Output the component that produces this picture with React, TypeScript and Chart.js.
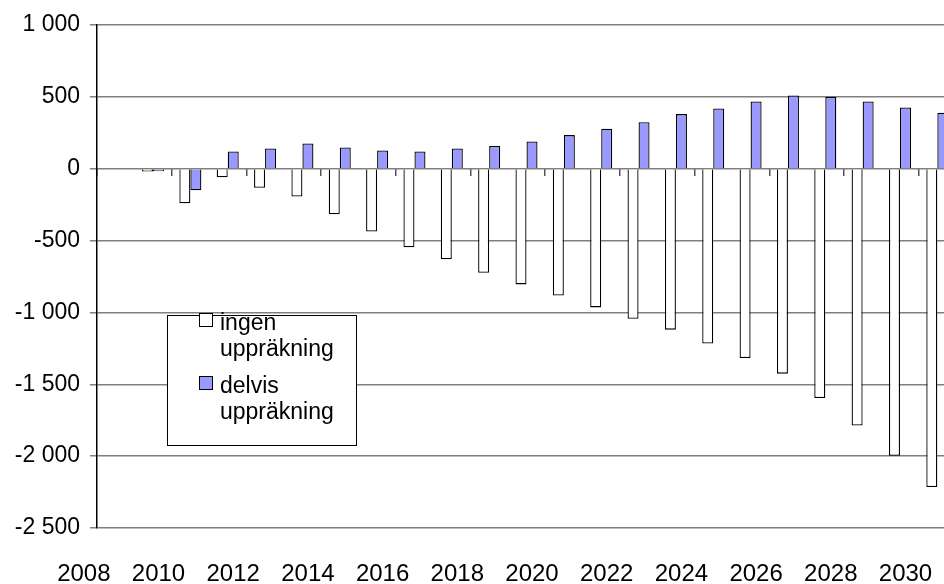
import React, { useEffect, useRef } from "react";
import { Chart, registerables } from "chart.js";

Chart.register(...registerables);

// Categories (one per year) and the year labels shown under the plot
const years = [
  2009, 2010, 2011, 2012, 2013, 2014, 2015, 2016, 2017, 2018, 2019, 2020,
  2021, 2022, 2023, 2024, 2025, 2026, 2027, 2028, 2029, 2030, 2031,
];
const tickYears = [2008, 2010, 2012, 2014, 2016, 2018, 2020, 2022, 2024, 2026, 2028, 2030];

// Series values per year
const ingenUpprakning = [
  null, -20, -241, -60, -132, -194, -317, -437, -546, -630, -724, -805,
  -882, -965, -1044, -1120, -1217, -1317, -1426, -1595, -1787, -1997, -2215,
];
const delvisUpprakning = [
  null, -18, -150, 120, 141, 176, 148, 127, 120, 141, 158, 190,
  234, 278, 324, 380, 419, 468, 509, 500, 468, 426, 389,
];

const seriesLabels = ["ingen uppräkning", "delvis uppräkning"];
const seriesColors = ["#ffffff", "#9999ff"];

const FONT = "'Liberation Sans', Arial, Helvetica, sans-serif";

function formatThousands(v: number): string {
  const n = Math.abs(v);
  const body =
    n >= 1000 ? `${Math.floor(n / 1000)} ${String(n % 1000).padStart(3, "0")}` : String(n);
  return (v < 0 ? "-" : "") + body;
}

export default function App() {
  const canvasRef = useRef<HTMLCanvasElement | null>(null);

  useEffect(() => {
    const canvas = canvasRef.current;
    if (!canvas) return;
    Chart.defaults.font.family = FONT;
    Chart.defaults.color = "#000";

    const chart = new Chart(canvas, {
      type: "bar",
      data: {
        labels: years.map(String),
        datasets: [
          {
            label: seriesLabels[0],
            data: ingenUpprakning,
            backgroundColor: seriesColors[0],
            borderColor: "#000",
            borderWidth: 1.3,
          },
          {
            label: seriesLabels[1],
            data: delvisUpprakning,
            backgroundColor: seriesColors[1],
            borderColor: "#000",
            borderWidth: 1.3,
          },
        ],
      },
      options: {
        responsive: false,
        animation: false,
        devicePixelRatio: 1,
        layout: { padding: { top: 25, right: 4, bottom: 0, left: 0 } },
        datasets: {
          bar: { categoryPercentage: 0.59, barPercentage: 1 },
        },
        plugins: {
          legend: { display: false },
          tooltip: { enabled: false },
        },
        scales: {
          x: {
            type: "category",
            offset: true,
            grid: { display: false, drawTicks: false },
            border: { display: false },
            afterBuildTicks: (scale: any) => {
              scale.ticks = tickYears.map((y) => ({ value: y - years[0] }));
            },
            afterFit: (scale: any) => {
              scale.height = 56;
            },
            ticks: {
              autoSkip: false,
              maxRotation: 0,
              padding: 32,
              labelOffset: 5.5,
              font: { size: 24 },
              color: "#000",
              callback: (value: any) => String(years[0] + Number(value)),
            },
          },
          x0: {
            type: "category",
            position: { y: 0 },
            offset: true,
            grid: {
              display: true,
              drawOnChartArea: false,
              drawTicks: true,
              offset: false,
              tickLength: 7,
              tickColor: "#555",
              lineWidth: 1.5,
            },
            border: { display: false },
            afterBuildTicks: (scale: any) => {
              scale.ticks = tickYears.map((y) => ({ value: y - years[0] + 0.5 }));
            },
            ticks: { display: false, autoSkip: false, callback: () => "" },
          },
          y: {
            min: -2500,
            max: 1000,
            afterFit: (scale: any) => {
              scale.width = 97;
            },
            ticks: {
              stepSize: 500,
              padding: 10,
              font: { size: 23 },
              color: "#000",
              callback: (value: any) => formatThousands(Number(value)),
            },
            grid: {
              color: "#808080",
              lineWidth: 1.5,
              tickLength: 7,
              tickColor: "#808080",
            },
            border: { color: "#000", width: 1.5 },
          },
        },
      } as any,
    });

    return () => chart.destroy();
  }, []);

  return (
    <div
      style={{
        position: "fixed",
        left: 0,
        top: 0,
        width: 944,
        height: 584,
        overflow: "hidden",
        background: "#fff",
      }}
    >
      <canvas ref={canvasRef} width={960} height={584} style={{ width: 960, height: 584, display: "block" }} />
      <div
        style={{
          position: "absolute",
          left: 167,
          top: 315,
          width: 190,
          height: 131,
          boxSizing: "border-box",
          border: "1px solid #000",
          background: "#fff",
          fontFamily: FONT,
          fontSize: 23,
          color: "#000",
        }}
      >
        {seriesLabels.map((label, i) => (
          <div
            key={label}
            style={{
              position: "absolute",
              left: 31,
              top: -7 + i * 63,
              display: "flex",
              alignItems: "flex-start",
            }}
          >
            <span
              style={{
                width: 14,
                height: 14,
                boxSizing: "border-box",
                border: "1px solid #000",
                background: seriesColors[i],
                marginTop: 4,
                flex: "none",
              }}
            />
            <span style={{ marginLeft: 7, width: 125, lineHeight: "26px" }}>{label}</span>
          </div>
        ))}
      </div>
    </div>
  );
}
